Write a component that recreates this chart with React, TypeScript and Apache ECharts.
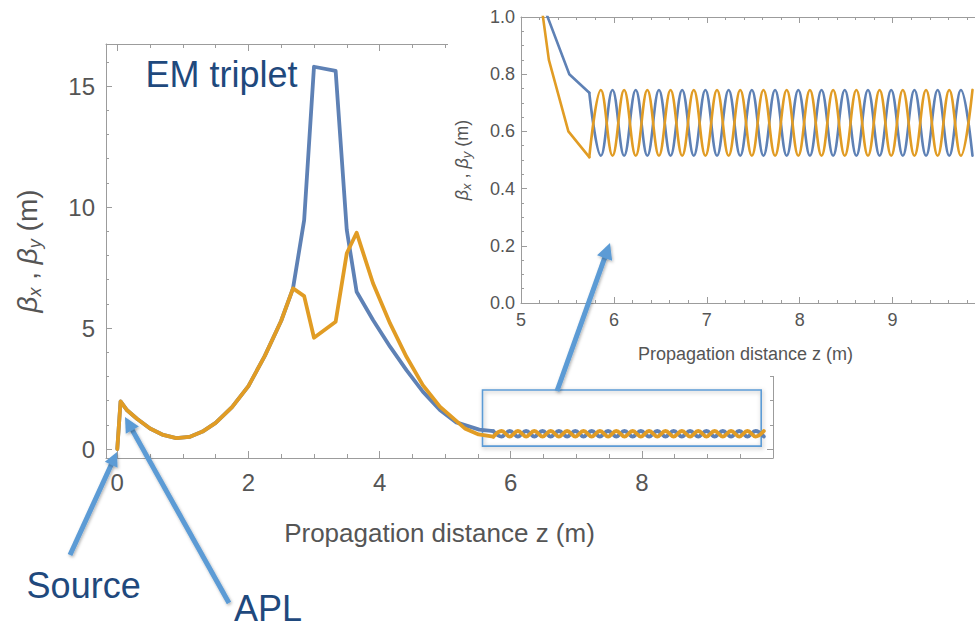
import React, { useEffect, useRef } from "react";
import * as echarts from "echarts";

// ---------- data ----------
// shared sampling of the transport line (source -> APL -> drift -> EM triplet -> drift)
const zTransport = [0, 0.05, 0.15, 0.3, 0.5, 0.7, 0.9, 1.1, 1.3, 1.5, 1.75, 2.0, 2.25, 2.5, 2.68, 2.85, 3.0, 3.33, 3.5, 3.65, 3.9, 4.16, 4.41, 4.66, 4.92];
const betaXTransport = [0, 1.97, 1.6, 1.25, 0.85, 0.58, 0.45, 0.5, 0.72, 1.08, 1.73, 2.6, 3.85, 5.3, 6.64, 9.46, 15.8, 15.63, 9.05, 6.5, 5.33, 4.23, 3.26, 2.37, 1.61];
const betaYTransport = [0, 1.97, 1.6, 1.25, 0.85, 0.58, 0.45, 0.5, 0.72, 1.08, 1.73, 2.6, 3.85, 5.3, 6.64, 6.32, 4.6, 5.26, 8.09, 8.94, 6.85, 5.19, 3.81, 2.64, 1.75];
// approach to the periodic channel
const zTailX = [5.17, 5.52];
const betaXTail = [1.1, 0.8];
const zTailY = [5.3, 5.51];
const betaYTail = [0.85, 0.6];
// periodic channel: extremes of the oscillation
const zPeriodic = [5.735, 5.86, 5.985, 6.11, 6.235, 6.36, 6.485, 6.61, 6.735, 6.86, 6.985, 7.11, 7.235, 7.36, 7.485, 7.61, 7.735, 7.86, 7.985, 8.11, 8.235, 8.36, 8.485, 8.61, 8.735, 8.86, 8.985, 9.11, 9.235, 9.36, 9.485, 9.61, 9.735, 9.86];
const betaXPeriodic = [0.735, 0.515, 0.745, 0.515, 0.745, 0.515, 0.745, 0.515, 0.745, 0.515, 0.745, 0.515, 0.745, 0.515, 0.745, 0.515, 0.745, 0.515, 0.745, 0.515, 0.745, 0.515, 0.745, 0.515, 0.745, 0.515, 0.745, 0.515, 0.745, 0.515, 0.745, 0.515, 0.745, 0.515];
const betaYPeriodic = [0.51, 0.745, 0.515, 0.745, 0.515, 0.745, 0.515, 0.745, 0.515, 0.745, 0.515, 0.745, 0.515, 0.745, 0.515, 0.745, 0.515, 0.745, 0.515, 0.745, 0.515, 0.745, 0.515, 0.745, 0.515, 0.745, 0.515, 0.745, 0.515, 0.745, 0.515, 0.745, 0.515, 0.745];

// zoom box on the main plot (data coordinates)
const zoomBoxZ = [5.57, 9.82];
const zoomBoxBeta = [2.44, 0.12];

// tick values
const mainXMajor = [0, 2, 4, 6, 8];
const mainXMinor = [0.5, 1, 1.5, 2.5, 3, 3.5, 4.5, 5, 5.5, 6.5, 7, 7.5, 8.5, 9, 9.5];
const mainYMajor = [0, 5, 10, 15];
const mainYMinor = [1, 2, 3, 4, 6, 7, 8, 9, 11, 12, 13, 14, 16];
const insetXMajor = [5, 6, 7, 8, 9];
const insetXMinor = [5.2, 5.4, 5.6, 5.8, 6.2, 6.4, 6.6, 6.8, 7.2, 7.4, 7.6, 7.8, 8.2, 8.4, 8.6, 8.8, 9.2, 9.4, 9.6, 9.8];
const insetYMajor = [0, 0.2, 0.4, 0.6, 0.8, 1.0];
const insetYMinor = [0.05, 0.1, 0.15, 0.25, 0.3, 0.35, 0.45, 0.5, 0.55, 0.65, 0.7, 0.75, 0.85, 0.9, 0.95];

const xTitle = "Propagation distance z (m)";

// ---------- styles ----------
const FONT = "'Liberation Sans', Arial, Helvetica, sans-serif";
const BLUE = "#5E81B5";
const ORANGE = "#E19C24";
const FRAME = "#9c9c9c";
const LABEL = "#555555";
const NOTE = "#1F497D";
const ARROW = "#5B9BD5";

const pairs = (z: number[], b: number[]) => z.map((v, i) => [v, b[i]]);

function betaName(size: number, sub: number, lh: number) {
  return {
    text: "{g|β}{s|x}{n| , }{g|β}{s|y}{n| (m)}",
    rich: {
      g: { fontSize: size, fontStyle: "italic", fontFamily: FONT, color: LABEL, lineHeight: lh, verticalAlign: "middle" },
      s: { fontSize: sub, fontStyle: "italic", fontFamily: FONT, color: LABEL, lineHeight: sub, verticalAlign: "bottom" },
      n: { fontSize: size, fontFamily: FONT, color: LABEL, lineHeight: lh, verticalAlign: "middle" },
    },
  };
}

type Spec = {
  grid: number; min: number; max: number; major: number[]; minor: number[];
  majorLen: number; minorLen: number; labelSize: number; labelMargin: number;
  fmt: (v: number) => string; name: string; nameGap: number; nameStyle: any; z: number;
  rotateName?: boolean; noFar?: boolean;
};

function frameAxes(dim: "x" | "y", s: Spec) {
  const near = dim === "x" ? "bottom" : "left";
  const far = dim === "x" ? "top" : "right";
  const line = { color: FRAME, width: 1 };
  const mk = (position: string, ticks: number[], len: number, withLine: boolean, withLabel: boolean) => {
    const ax: any = {
      type: "value", gridIndex: s.grid, min: s.min, max: s.max, position, z: s.z,
      axisLine: { show: withLine, onZero: false, lineStyle: line },
      axisTick: { show: true, inside: true, length: len, customValues: ticks, lineStyle: line },
      axisLabel: withLabel
        ? { show: true, customValues: s.major, fontSize: s.labelSize, color: LABEL, fontFamily: FONT, margin: s.labelMargin, formatter: s.fmt }
        : { show: false },
      splitLine: { show: false },
      silent: true,
    };
    if (withLabel) {
      ax.name = s.name;
      ax.nameLocation = "middle";
      ax.nameGap = s.nameGap;
      ax.nameTextStyle = s.nameStyle;
      if (s.rotateName) ax.nameRotate = 90;
    }
    return ax;
  };
  const axes = [mk(near, s.major, s.majorLen, true, true), mk(near, s.minor, s.minorLen, false, false)];
  if (!s.noFar) {
    axes.push(mk(far, s.major, s.majorLen, true, false), mk(far, s.minor, s.minorLen, false, false));
  }
  return axes;
}

function arrow(x1: number, y1: number, x2: number, y2: number, w: number, headLen: number, headW: number) {
  const dx = x2 - x1, dy = y2 - y1;
  const L = Math.hypot(dx, dy);
  const ux = dx / L, uy = dy / L;
  const px = -uy, py = ux;
  const bx = x2 - ux * headLen, by = y2 - uy * headLen;
  const shadow = { shadowBlur: 3, shadowOffsetX: 1, shadowOffsetY: 1.5, shadowColor: "rgba(0,0,0,0.3)" };
  return [
    { type: "line", z: 20, silent: true, shape: { x1, y1, x2: bx + ux * 2, y2: by + uy * 2 }, style: { stroke: ARROW, lineWidth: w, ...shadow } },
    { type: "polygon", z: 20, silent: true, shape: { points: [[x2, y2], [bx + (px * headW) / 2, by + (py * headW) / 2], [bx - (px * headW) / 2, by - (py * headW) / 2]] }, style: { fill: ARROW, ...shadow } },
  ];
}

function buildOption() {
  const mainX = frameAxes("x", {
    grid: 0, min: -0.172, max: 10, major: mainXMajor, minor: mainXMinor, majorLen: 7, minorLen: 4,
    labelSize: 24, labelMargin: 12, fmt: (v) => String(v), name: xTitle, nameGap: 62,
    nameStyle: { fontSize: 26, color: LABEL, fontFamily: FONT }, z: 0,
  });
  const insetX = frameAxes("x", {
    grid: 1, min: 5, max: 9.887, major: insetXMajor, minor: insetXMinor, majorLen: 6, minorLen: 3,
    labelSize: 18, labelMargin: 8, fmt: (v) => String(v), name: xTitle, nameGap: 42,
    nameStyle: { fontSize: 18, color: LABEL, fontFamily: FONT, padding: [0, 5, 0, 0] }, z: 8,
  });
  const mainY = frameAxes("y", {
    grid: 0, min: -0.372, max: 16.74, major: mainYMajor, minor: mainYMinor, majorLen: 6, minorLen: 3,
    labelSize: 24, labelMargin: 11, fmt: (v) => String(v), name: betaName(28, 18, 34).text, nameGap: 62,
    nameStyle: { rich: betaName(28, 18, 34).rich }, z: 0, rotateName: true,
  });
  const insetY = frameAxes("y", {
    grid: 1, min: 0, max: 1, major: insetYMajor, minor: insetYMinor, majorLen: 6, minorLen: 3,
    labelSize: 18, labelMargin: 6, fmt: (v) => v.toFixed(1), name: betaName(18, 13, 22).text, nameGap: 48,
    nameStyle: { rich: betaName(18, 13, 22).rich }, z: 8, rotateName: true, noFar: true,
  });

  const blueT = [...pairs(zTransport, betaXTransport), ...pairs(zTailX, betaXTail), [zPeriodic[0], betaXPeriodic[0]]];
  const orangeT = [...pairs(zTransport, betaYTransport), ...pairs(zTailY, betaYTail), [zPeriodic[0], betaYPeriodic[0]]];
  const blueW = pairs(zPeriodic, betaXPeriodic);
  const orangeW = pairs(zPeriodic, betaYPeriodic);

  const lineSeries = (data: number[][], color: string, xi: number, yi: number, width: number, smooth: number, z: number, extra: any = {}) => ({
    type: "line", data, xAxisIndex: xi, yAxisIndex: yi, showSymbol: false, symbol: "none", smooth,
    lineStyle: { color, width, cap: "round", join: "round" }, z, silent: true, clip: true, ...extra,
  });

  const markArea = {
    silent: true,
    itemStyle: { color: "rgba(0,0,0,0)", borderColor: ARROW, borderWidth: 1.6, shadowBlur: 4, shadowOffsetX: 1, shadowOffsetY: 1.5, shadowColor: "rgba(0,0,0,0.3)" },
    label: { show: false },
    data: [[{ coord: [zoomBoxZ[0], zoomBoxBeta[0]] }, { coord: [zoomBoxZ[1], zoomBoxBeta[1]] }]],
  };

  const mainXi = 0, mainYi = 0;
  const insetXi = mainX.length, insetYi = mainY.length;

  const series = [
    lineSeries(blueT, BLUE, mainXi, mainYi, 3.8, 0, 2, { markArea }),
    lineSeries(blueW, BLUE, mainXi, mainYi, 3.8, 0.4, 2),
    lineSeries(orangeT, ORANGE, mainXi, mainYi, 3.8, 0, 3),
    lineSeries(orangeW, ORANGE, mainXi, mainYi, 3.8, 0.4, 3),
    lineSeries(blueT, BLUE, insetXi, insetYi, 2.6, 0, 9),
    lineSeries(blueW, BLUE, insetXi, insetYi, 2.6, 0.4, 9),
    lineSeries(orangeT, ORANGE, insetXi, insetYi, 2.6, 0, 10),
    lineSeries(orangeW, ORANGE, insetXi, insetYi, 2.6, 0.4, 10),
  ];

  const noteStyle = { fill: NOTE, fontSize: 36, fontFamily: FONT, align: "left", verticalAlign: "middle", lineHeight: 30 };
  const graphic = [
    { type: "rect", z: 5, silent: true, shape: { x: 448, y: 0, width: 540, height: 376 }, style: { fill: "#ffffff" } },
    { type: "text", z: 20, silent: true, x: 145.5, y: 74, style: { ...noteStyle, text: "EM triplet" } },
    { type: "text", z: 20, silent: true, x: 26.6, y: 585.5, style: { ...noteStyle, text: "Source" } },
    { type: "text", z: 20, silent: true, x: 234, y: 608, style: { ...noteStyle, text: "APL" } },
    ...arrow(70, 555, 117, 452, 5, 14, 14),
    ...arrow(229, 603, 125, 417, 5, 15, 15),
    ...arrow(557, 391, 610, 243, 5, 16, 16),
  ];

  return {
    animation: false,
    backgroundColor: "#ffffff",
    textStyle: { fontFamily: FONT },
    grid: [
      { left: 106, top: 44, width: 667, height: 414, z: 0 },
      { left: 521, top: 17, right: 0, height: 286, z: 8 },
    ],
    xAxis: [...mainX, ...insetX],
    yAxis: [...mainY, ...insetY],
    series,
    graphic,
  };
}

export default function App() {
  const ref = useRef<HTMLDivElement>(null);
  useEffect(() => {
    if (!ref.current) return;
    const chart = echarts.init(ref.current, undefined, { renderer: "svg", width: 975, height: 629 });
    chart.setOption(buildOption() as any);
    return () => chart.dispose();
  }, []);
  return (
    <div
      ref={ref}
      style={{ position: "fixed", left: 0, top: 0, width: 975, height: 629, background: "#ffffff", overflow: "hidden" }}
    />
  );
}
